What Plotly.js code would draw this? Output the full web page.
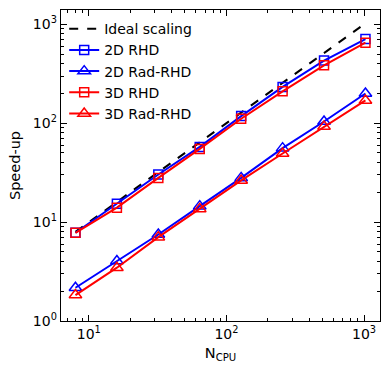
<!DOCTYPE html>
<html>
<head>
<meta charset="utf-8">
<script src="https://cdn.plot.ly/plotly-3.0.1.min.js"></script>
<style>
  html, body { margin: 0; padding: 0; background: #fff; }
  #plot { width: 390px; height: 372px; }
</style>
</head>
<body>
<div id="plot"></div>
<script>
// Number of CPUs
const nCpu = [8, 16, 32, 64, 128, 256, 512, 1024];

const ideal = [8, 16, 32, 64, 128, 256, 512, 1024];
const rhd2d = [7.8, 15.3, 30.3, 57.6, 118, 233, 430, 710];
const radRhd2d = [2.17, 4.04, 7.5, 14.5, 28, 56, 104, 200];
const rhd3d = [7.8, 14.0, 28, 55, 111, 210, 385, 653];
const radRhd3d = [1.83, 3.46, 7.05, 13.6, 26.4, 49.4, 92.5, 170];

// tick positions
const xMajor = [10, 100, 1000];
const xMajorText = ["10<sup>1</sup>", "10<sup>2</sup>", "10<sup>3</sup>"];
const yMajor = [1, 10, 100, 1000];
const yMajorText = ["10<sup>0</sup>", "10<sup>1</sup>", "10<sup>2</sup>", "10<sup>3</sup>"];
const xMinor = [7, 8, 9, 20, 30, 40, 50, 60, 70, 80, 90, 200, 300, 400, 500, 600, 700, 800, 900];
const yMinor = [2, 3, 4, 5, 6, 7, 8, 9, 20, 30, 40, 50, 60, 70, 80, 90, 200, 300, 400, 500, 600, 700, 800, 900];

const font = "DejaVu Sans, sans-serif";
const xRange = [0.798, 3.116];
const yRange = [0, 3.145];

function series(name, y, color, symbol, size) {
  return {
    x: nCpu,
    y: y,
    name: name,
    type: "scatter",
    mode: "lines+markers",
    line: { color: color, width: 2 },
    marker: {
      symbol: symbol,
      size: size,
      color: color,
      line: { color: color, width: 1.5 },
    },
  };
}

const traces = [
  {
    x: nCpu,
    y: ideal,
    name: "Ideal scaling",
    type: "scatter",
    mode: "lines",
    line: { color: "black", width: 2, dash: "dash" },
  },
  series("2D RHD", rhd2d, "blue", "square-open", 9),
  series("2D Rad-RHD", radRhd2d, "blue", "triangle-up-open", 11),
  series("3D RHD", rhd3d, "red", "square-open", 9),
  series("3D Rad-RHD", radRhd3d, "red", "triangle-up-open", 11),
  // empty trace so the minor-tick axes get drawn
  {
    x: [10],
    y: [10],
    xaxis: "x2",
    yaxis: "y2",
    type: "scatter",
    mode: "none",
    showlegend: false,
    hoverinfo: "skip",
  },
];

// common axis styling (matplotlib-like: inside ticks on all four sides)
const axisStyle = {
  type: "log",
  showgrid: false,
  zeroline: false,
  showline: true,
  linecolor: "black",
  linewidth: 1.3,
  mirror: "allticks",
  ticks: "inside",
  ticklen: 6,
  tickwidth: 1,
  tickcolor: "black",
  tickmode: "array",
  tickfont: { family: font, size: 14, color: "black" },
};

const minorStyle = {
  type: "log",
  showgrid: false,
  zeroline: false,
  showline: false,
  mirror: "allticks",
  ticks: "inside",
  ticklen: 3,
  tickwidth: 1,
  tickcolor: "black",
  tickmode: "array",
  showticklabels: false,
};

const layout = {
  width: 390,
  height: 372,
  margin: { l: 61, r: 10, t: 10, b: 51 },
  paper_bgcolor: "white",
  plot_bgcolor: "white",
  font: { family: font, color: "black" },
  showlegend: true,
  legend: {
    x: 0.01,
    y: 0.99,
    xanchor: "left",
    yanchor: "top",
    bgcolor: "rgba(255,255,255,0)",
    font: { family: font, size: 14, color: "black" },
    itemwidth: 30,
  },
  xaxis: Object.assign({}, axisStyle, {
    range: xRange,
    tickvals: xMajor,
    ticktext: xMajorText,
    title: { text: "N<sub>CPU</sub>", font: { family: font, size: 14.5 }, standoff: 6 },
  }),
  yaxis: Object.assign({}, axisStyle, {
    range: yRange,
    tickvals: yMajor,
    ticktext: yMajorText,
    title: { text: "Speed-up", font: { family: font, size: 14.5 }, standoff: 8 },
  }),
  xaxis2: Object.assign({}, minorStyle, {
    overlaying: "x",
    anchor: "y2",
    range: xRange,
    tickvals: xMinor,
  }),
  yaxis2: Object.assign({}, minorStyle, {
    overlaying: "y",
    anchor: "x2",
    range: yRange,
    tickvals: yMinor,
  }),
};

Plotly.newPlot("plot", traces, layout, { displayModeBar: false, staticPlot: true });
</script>
</body>
</html>
